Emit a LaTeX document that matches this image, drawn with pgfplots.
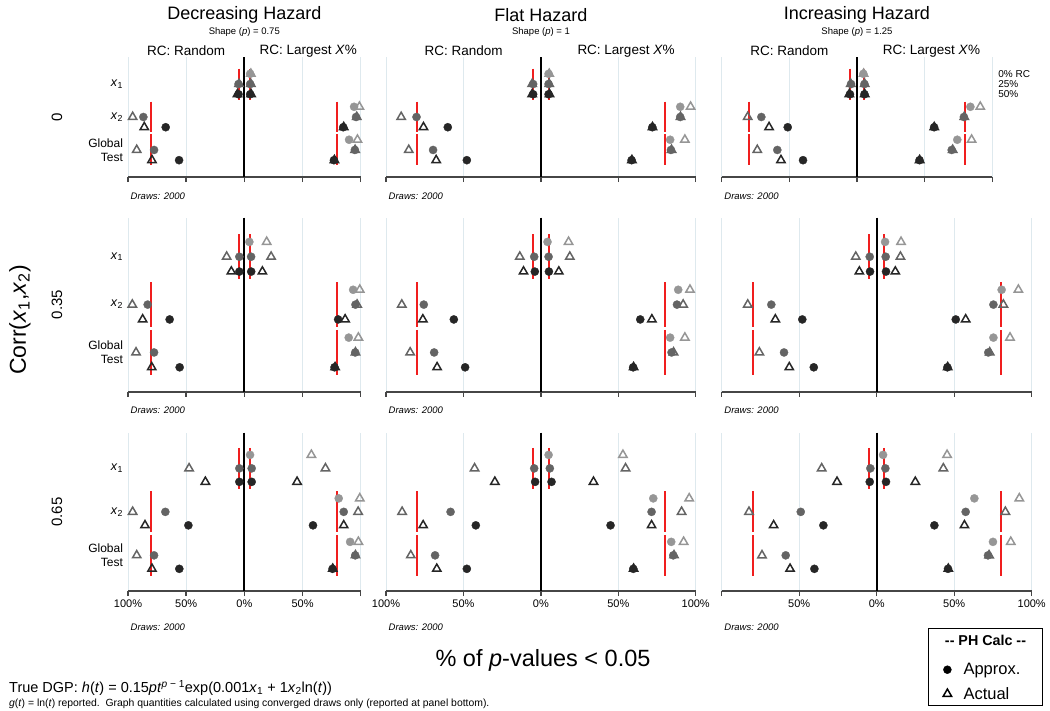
\documentclass[border=0pt]{standalone}
\usepackage{fontspec}
\setmainfont{Liberation Sans}
\usepackage{pgfplots}
\usepackage{pgfplotstable}
\pgfplotsset{compat=1.18}

\definecolor{cL}{RGB}{150,150,150}
\definecolor{cM}{RGB}{100,100,100}
\definecolor{cD}{RGB}{38,38,38}
\definecolor{gridc}{RGB}{222,233,238}
\definecolor{axisc}{RGB}{70,70,70}
\definecolor{redc}{RGB}{240,30,30}

\newcommand\fs[1]{\fontsize{#1}{#1}\selectfont}

% columns: y position, RC level (a=0%, b=25%, c=50%), approx x, actual x
% negative x = RC: Random, positive x = RC: Largest X%
\pgfplotstableread{
y lev cx tx
-0.69 a 5 5.6
-1 b 5 5.6
-1.31 c 5 5.8
-1 b -5 -4.6
-1.31 c -5 -5.9
-1.69 a 94.3 98.9
-2 b 96 96.6
-2.31 c 85 85.4
-2 b -86.8 -96
-2.31 c -67.6 -86
-2.69 a 90 97.2
-3 b 95 95.2
-3.31 c 77 77.4
-3 b -77.6 -92.5
-3.31 c -56.1 -79.4
}\tA
\pgfplotstableread{
y lev cx tx
-0.69 a 5 5.4
-1 b 5 5.4
-1.31 c 5 5.6
-1 b -5 -5.6
-1.31 c -5 -5.6
-1.69 a 90 96.7
-2 b 90 90.2
-2.31 c 72 72.1
-2 b -80.3 -90.2
-2.31 c -60.1 -75.8
-2.69 a 83.5 93
-3 b 84 84.4
-3.31 c 58.6 58.8
-3 b -69.6 -85.3
-3.31 c -47.8 -67.6
}\tB
\pgfplotstableread{
y lev cx tx
-0.69 a 4.7 4.9
-1 b 5.5 5.7
-1.31 c 5.5 5.7
-1 b -4.4 -4.6
-1.31 c -5.2 -5.7
-1.69 a 83.8 91.1
-2 b 79 79.3
-2.31 c 57 57.1
-2 b -70.7 -80.8
-2.31 c -51.2 -65
-2.69 a 74.1 84.7
-3 b 70 70.7
-3.31 c 46.2 46.3
-3 b -58.9 -73.7
-3.31 c -39.9 -56.2
}\tC
\pgfplotstableread{
y lev cx tx
-0.69 a 4.3 19.2
-1 b 5.8 23
-1.31 c 5.9 15.5
-1 b -4.3 -15.2
-1.31 c -4.3 -11.2
-1.69 a 93.5 99.2
-2 b 95.5 96.9
-2.31 c 80.6 86.6
-2 b -83.1 -96.3
-2.31 c -64.2 -87.4
-2.69 a 89.7 98
-3 b 95.3 95.5
-3.31 c 77.5 78
-3 b -77.6 -93.1
-3.31 c -55.6 -79.6
}\tD
\pgfplotstableread{
y lev cx tx
-0.69 a 4.3 17.9
-1 b 5 18.7
-1.31 c 5.2 11.6
-1 b -4.3 -13.6
-1.31 c -3.9 -11.2
-1.69 a 88.7 96.3
-2 b 87.9 91.9
-2.31 c 64.2 71.7
-2 b -75.6 -89.8
-2.31 c -56.2 -76.2
-2.69 a 83.5 93
-3 b 84.4 85.7
-3.31 c 59.6 59.9
-3 b -68.9 -84.4
-3.31 c -48.9 -67
}\tE
\pgfplotstableread{
y lev cx tx
-0.69 a 5.4 15.7
-1 b 5.8 15.3
-1.31 c 6 12
-1 b -4.5 -13.5
-1.31 c -4.3 -11.2
-1.69 a 80.6 91.4
-2 b 75.3 81.7
-2.31 c 51 57.4
-2 b -68 -83.2
-2.31 c -48 -65.4
-2.69 a 75.3 86
-3 b 72 72.9
-3.31 c 45.6 45.8
-3 b -59.8 -75.7
-3.31 c -40.6 -56.4
}\tF
\pgfplotstableread{
y lev cx tx
-0.69 a 4.9 57.6
-1 b 6.3 69.7
-1.31 c 6.3 45.3
-1 b -4.3 -47.5
-1.31 c -4.3 -33.5
-1.69 a 81.1 99.2
-2 b 85.4 97.8
-2.31 c 59 85.4
-2 b -67.9 -96
-2.31 c -48.1 -85.4
-2.69 a 90.9 98
-3 b 95.3 95.5
-3.31 c 75.8 76
-3 b -77.6 -92.5
-3.31 c -55.9 -79.4
}\tG
\pgfplotstableread{
y lev cx tx
-0.69 a 5 53
-1 b 5.8 54.7
-1.31 c 6.9 34
-1 b -4.3 -42.8
-1.31 c -3.7 -29.7
-1.69 a 72.6 95.8
-2 b 71.5 90.9
-2.31 c 45 71.5
-2 b -58.3 -89.6
-2.31 c -42 -76
-2.69 a 84.2 92.2
-3 b 85.5 86
-3.31 c 59.7 59.9
-3 b -68.3 -84
-3.31 c -47.8 -67.2
}\tH
\pgfplotstableread{
y lev cx tx
-0.69 a 4.1 45.4
-1 b 5.6 43
-1.31 c 6 24.9
-1 b -4.1 -35.5
-1.31 c -4.5 -25.6
-1.69 a 63 92
-2 b 57.4 83
-2.31 c 37.2 56.6
-2 b -49 -82.4
-2.31 c -34.4 -66.5
-2.69 a 75 86.5
-3 b 71.8 72.5
-3.31 c 46 46.2
-3 b -58.7 -74
-3.31 c -40.2 -55.9
}\tI

\pgfplotsset{
 panel/.style={
  scale only axis, clip=false,
  xmin=-100, xmax=100, ymin=-3.82, ymax=-0.18,
  axis x line*=bottom, axis y line=none,
  xtick={-100,-50,0,50,100}, xticklabels={},
  ytick=\empty,
  xmajorgrids,
  grid style={gridc, line width=0.9pt},
  tick align=outside, major tick length=5pt,
  x axis line style={axisc, line width=1.6pt},
  xtick style={axisc, line width=1.4pt},
  xticklabel style={font=\fs{11}, text=black},
 },
 circ/.style={forget plot, scatter, only marks, scatter src=explicit symbolic,
   scatter/classes={
     a={mark=*, draw=cL, fill=cL, mark size=4.1pt, line width=0.3pt},
     b={mark=*, draw=cM, fill=cM, mark size=4.1pt, line width=0.3pt},
     c={mark=*, draw=cD, fill=cD, mark size=4.1pt, line width=0.3pt}}},
 tri/.style={forget plot, scatter, only marks, scatter src=explicit symbolic,
   scatter/classes={
     a={mark=triangle, draw=cL, mark size=4.8pt, line width=1.5pt},
     b={mark=triangle, draw=cM, mark size=4.8pt, line width=1.5pt},
     c={mark=triangle, draw=cD, mark size=4.8pt, line width=1.5pt}}},
 refl/.style={forget plot, draw=redc, line width=2pt},
}

\newcommand\drawpanel[1]{%
 \addplot[forget plot, black, line width=1.8pt] coordinates {(0,-0.18) (0,-3.82)};
 \addplot[refl] coordinates {(-5,-0.53) (-5,-1.47)};
 \addplot[refl] coordinates {(5,-0.53) (5,-1.47)};
 \addplot[refl] coordinates {(-80,-1.53) (-80,-2.47)};
 \addplot[refl] coordinates {(80,-1.53) (80,-2.47)};
 \addplot[refl] coordinates {(-80,-2.53) (-80,-3.47)};
 \addplot[refl] coordinates {(80,-2.53) (80,-3.47)};
 \addplot[circ] table[x=cx, y=y, meta=lev] {#1};
 \addplot[tri] table[x=tx, y=y, meta=lev] {#1};
}
\newcommand\ylabs{%
 \node[anchor=east, xshift=-1.5pt, font=\fs{12.5}] at (axis cs:-100,-1) {\textit{x}\textsubscript{1}};
 \node[anchor=east, xshift=-1.5pt, font=\fs{12.5}] at (axis cs:-100,-2) {\textit{x}\textsubscript{2}};
 \node[anchor=east, xshift=-1.5pt, align=right, font=\fontsize{12}{14}\selectfont] at (axis cs:-100,-3) {Global\\Test};
}

\begin{document}
\begin{tikzpicture}
\path[use as bounding box] (0pt,0pt) rectangle (1050pt,-710pt);

% ---------- Row 1 ----------
\begin{axis}[panel, at={(128pt,-57pt)}, anchor=north west, width=232.7pt, height=120pt]
\drawpanel{\tA}
\ylabs
\end{axis}
\begin{axis}[panel, at={(386pt,-57pt)}, anchor=north west, width=309.7pt, height=120pt]
\drawpanel{\tB}
\end{axis}
\begin{axis}[panel, at={(721.7pt,-57pt)}, anchor=north west, width=270.6pt, height=120pt]
\drawpanel{\tC}
\node[anchor=west, xshift=2.5pt, font=\fs{10}] at (axis cs:100,-0.69) {0\% RC};
\node[anchor=west, xshift=2.5pt, font=\fs{10}] at (axis cs:100,-1) {25\%};
\node[anchor=west, xshift=2.5pt, font=\fs{10}] at (axis cs:100,-1.31) {50\%};
\end{axis}

% ---------- Row 2 ----------
\begin{axis}[panel, at={(128pt,-217.5pt)}, anchor=north west, width=232.7pt, height=174.2pt]
\drawpanel{\tD}
\ylabs
\end{axis}
\begin{axis}[panel, at={(386pt,-217.5pt)}, anchor=north west, width=309.7pt, height=174.2pt]
\drawpanel{\tE}
\end{axis}
\begin{axis}[panel, at={(721.7pt,-217.5pt)}, anchor=north west, width=310pt, height=174.2pt]
\drawpanel{\tF}
\end{axis}

% ---------- Row 3 ----------
\begin{axis}[panel, at={(128pt,-432.7pt)}, anchor=north west, width=232.7pt, height=158.3pt,
  xticklabels={100\%,50\%,0\%,50\%,{}}]
\drawpanel{\tG}
\ylabs
\end{axis}
\begin{axis}[panel, at={(386pt,-432.7pt)}, anchor=north west, width=309.7pt, height=158.3pt,
  xticklabels={100\%,50\%,0\%,50\%,100\%}]
\drawpanel{\tH}
\end{axis}
\begin{axis}[panel, at={(721.7pt,-432.7pt)}, anchor=north west, width=310pt, height=158.3pt,
  xticklabels={{},50\%,0\%,50\%,100\%},
  legend style={draw=none, fill=none, at={(axis description cs:0.684,-0.43)}, anchor=north west,
    font=\fs{16.5}, row sep=7pt, legend cell align=left},
  legend image code/.code={\path (0cm,0cm) (0.85cm,0cm); \draw[mark repeat=2,mark phase=2,#1] plot coordinates {(0cm,0cm) (0.36cm,0cm) (0.72cm,0cm)};}]
\addlegendimage{only marks, mark=*, black, mark size=4pt}
\addlegendentry{Approx.}
\addlegendimage{only marks, mark=triangle, black, mark size=4.8pt, mark options={line width=1.5pt}}
\addlegendentry{Actual}
\drawpanel{\tI}
\end{axis}

% ---------- Column titles ----------
\node[font=\fs{18}] at (244.3pt,-15pt) {Decreasing Hazard};
\node[font=\fs{9.5}] at (244.3pt,-32.5pt) {Shape (\textit{p}) = 0.75};
\node[font=\fs{13.5}] at (186.1pt,-51pt) {RC: Random};
\node[font=\fs{13.5}] at (308.3pt,-51pt) {RC: Largest \textit{X}\%};

\node[font=\fs{18}] at (541pt,-15pt) {Flat Hazard};
\node[font=\fs{9.5}] at (541pt,-32.5pt) {Shape (\textit{p}) = 1};
\node[font=\fs{13.5}] at (463.6pt,-51pt) {RC: Random};
\node[font=\fs{13.5}] at (626.1pt,-51pt) {RC: Largest \textit{X}\%};

\node[font=\fs{18}] at (857pt,-15pt) {Increasing Hazard};
\node[font=\fs{9.5}] at (857pt,-32.5pt) {Shape (\textit{p}) = 1.25};
\node[font=\fs{13.5}] at (789.3pt,-51pt) {RC: Random};
\node[font=\fs{13.5}] at (931.4pt,-51pt) {RC: Largest \textit{X}\%};

% ---------- Draws ----------
\foreach \xx in {130.5,388.5,724.2} {
  \node[anchor=west, inner sep=0pt, font=\fs{9.5}\itshape] at (\xx pt,-196pt) {Draws: 2000};
  \node[anchor=west, inner sep=0pt, font=\fs{9.5}\itshape] at (\xx pt,-410.5pt) {Draws: 2000};
  \node[anchor=west, inner sep=0pt, font=\fs{9.5}\itshape] at (\xx pt,-627pt) {Draws: 2000};
}

% ---------- Row labels ----------
\node[rotate=90, font=\fs{15}] at (57pt,-117pt) {0};
\node[rotate=90, font=\fs{15}] at (57pt,-304.6pt) {0.35};
\node[rotate=90, font=\fs{15}] at (57pt,-512pt) {0.65};
\node[rotate=90, font=\fs{23}] at (20pt,-320pt) {Corr(\textit{x}\textsubscript{1},\textit{x}\textsubscript{2})};

% ---------- Bottom texts ----------
\node[font=\fs{23.5}] at (543pt,-660pt) {\% of \textit{p}-values < 0.05};
\node[anchor=west, inner sep=0pt, font=\fs{14.5}] at (9pt,-688pt)
  {True DGP: \textit{h}(\textit{t}) = 0.15\textit{pt}\textsuperscript{\textit{p} − 1}exp(0.001\textit{x}\textsubscript{1} + 1\textit{x}\textsubscript{2}ln(\textit{t}))};
\node[anchor=west, inner sep=0pt, font=\fs{10.4}] at (9pt,-704pt)
  {\textit{g}(\textit{t}) = ln(\textit{t}) reported.\ \ Graph quantities calculated using converged draws only (reported at panel bottom).};

% ---------- Legend box ----------
\draw[black, line width=0.8pt] (928pt,-628pt) rectangle (1042pt,-705pt);
\node[font=\fs{14.3}\bfseries] at (985.5pt,-640.5pt) {-{}- PH Calc -{}-};
\end{tikzpicture}
\end{document}
